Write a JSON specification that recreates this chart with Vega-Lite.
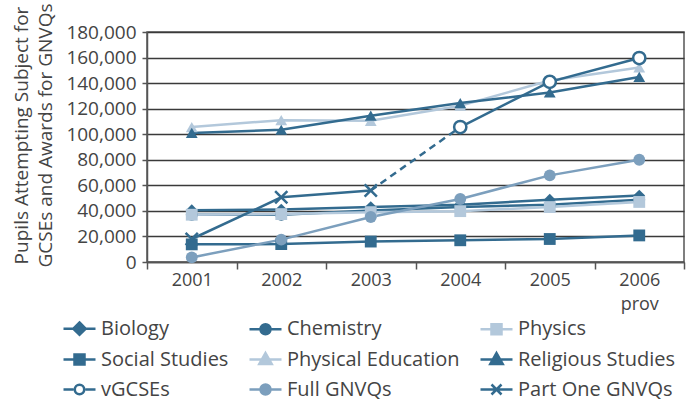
{
  "$schema": "https://vega.github.io/schema/vega-lite/v6.json",
  "width": 537,
  "height": 230,
  "autosize": {"type": "none"},
  "padding": {"left": 147, "top": 32, "right": 12, "bottom": 138},
  "config": {
    "font": "Open Sans",
    "view": {"stroke": "#555555", "strokeWidth": 1.5},
    "axis": {"labelColor": "#444444", "titleColor": "#444444", "domainColor": "#555555", "tickColor": "#555555", "domainWidth": 1.5, "tickWidth": 1.5}
  },
  "data": {
    "values": [
      {"series": "Biology", "year": "2001", "value": 40500},
      {"series": "Biology", "year": "2002", "value": 41000},
      {"series": "Biology", "year": "2003", "value": 43000},
      {"series": "Biology", "year": "2004", "value": 44800},
      {"series": "Biology", "year": "2005", "value": 48800},
      {"series": "Biology", "year": "2006", "value": 52000},
      {"series": "Chemistry", "year": "2001", "value": 37000},
      {"series": "Chemistry", "year": "2002", "value": 37000},
      {"series": "Chemistry", "year": "2003", "value": 40400},
      {"series": "Chemistry", "year": "2004", "value": 43000},
      {"series": "Chemistry", "year": "2005", "value": 44800},
      {"series": "Chemistry", "year": "2006", "value": 48800},
      {"series": "Physics", "year": "2001", "value": 37000},
      {"series": "Physics", "year": "2002", "value": 37500},
      {"series": "Physics", "year": "2003", "value": 39000},
      {"series": "Physics", "year": "2004", "value": 39800},
      {"series": "Physics", "year": "2005", "value": 43000},
      {"series": "Physics", "year": "2006", "value": 47000},
      {"series": "Social Studies", "year": "2001", "value": 13800},
      {"series": "Social Studies", "year": "2002", "value": 14000},
      {"series": "Social Studies", "year": "2003", "value": 16000},
      {"series": "Social Studies", "year": "2004", "value": 17000},
      {"series": "Social Studies", "year": "2005", "value": 18000},
      {"series": "Social Studies", "year": "2006", "value": 20800},
      {"series": "Physical Education", "year": "2001", "value": 105600},
      {"series": "Physical Education", "year": "2002", "value": 111000},
      {"series": "Physical Education", "year": "2003", "value": 110500},
      {"series": "Physical Education", "year": "2004", "value": 122300},
      {"series": "Physical Education", "year": "2005", "value": 142000},
      {"series": "Physical Education", "year": "2006", "value": 152300},
      {"series": "Religious Studies", "year": "2001", "value": 101000},
      {"series": "Religious Studies", "year": "2002", "value": 103500},
      {"series": "Religious Studies", "year": "2003", "value": 114500},
      {"series": "Religious Studies", "year": "2004", "value": 124400},
      {"series": "Religious Studies", "year": "2005", "value": 132700},
      {"series": "Religious Studies", "year": "2006", "value": 144800},
      {"series": "vGCSEs", "year": "2004", "value": 105600},
      {"series": "vGCSEs", "year": "2005", "value": 141000},
      {"series": "vGCSEs", "year": "2006", "value": 159600},
      {"series": "Full GNVQs", "year": "2001", "value": 3600},
      {"series": "Full GNVQs", "year": "2002", "value": 17500},
      {"series": "Full GNVQs", "year": "2003", "value": 35200},
      {"series": "Full GNVQs", "year": "2004", "value": 49300},
      {"series": "Full GNVQs", "year": "2005", "value": 67800},
      {"series": "Full GNVQs", "year": "2006", "value": 80000},
      {"series": "Part One GNVQs", "year": "2001", "value": 18000},
      {"series": "Part One GNVQs", "year": "2002", "value": 50600},
      {"series": "Part One GNVQs", "year": "2003", "value": 56000}
    ]
  },
  "encoding": {
    "x": {
      "field": "year", "type": "ordinal",
      "scale": {"type": "band", "domain": ["2001", "2002", "2003", "2004", "2005", "2006"], "paddingInner": 0, "paddingOuter": 0},
      "axis": {
        "title": null, "labelAngle": 0, "labelFontSize": 18, "tickBand": "extent", "tickSize": 7, "labelPadding": 2,
        "labelLineHeight": 24, "grid": false,
        "labelExpr": "datum.value === '2006' ? ['2006', 'prov'] : datum.value"
      }
    },
    "y": {
      "field": "value", "type": "quantitative",
      "scale": {"domain": [0, 180000], "nice": false},
      "axis": {
        "values": [0, 20000, 40000, 60000, 80000, 100000, 120000, 140000, 160000, 180000],
        "format": ",.0f", "labelFontSize": 19, "tickSize": 5, "labelPadding": 6,
        "grid": true, "gridColor": "#3a3a3a", "gridWidth": 1.5,
        "title": ["Pupils Attempting Subject for", "GCSEs and Awards for GNVQs"],
        "titleFontSize": 19, "titleFontWeight": "normal", "titleLineHeight": 24,
        "titleX": -135, "titleY": 103, "titleAngle": -90, "titleAlign": "center", "titleBaseline": "top"
      }
    }
  },
  "layer": [
    {
      "mark": {"type": "line", "strokeWidth": 2.5},
      "encoding": {
        "color": {
          "field": "series", "type": "nominal",
          "scale": {
            "domain": ["Biology", "Chemistry", "Physics", "Social Studies", "Physical Education", "Religious Studies", "vGCSEs", "Full GNVQs", "Part One GNVQs"],
            "range": ["#336b8f", "#336b8f", "#b3c8db", "#336b8f", "#b3c8db", "#336b8f", "#336b8f", "#7c9fbd", "#336b8f"]
          },
          "legend": {
            "title": null, "orient": "none", "legendX": -79, "legendY": 285, "columns": 3, "direction": "horizontal",
            "labelFontSize": 20, "labelColor": "#444444", "labelLimit": 300, "labelOffset": 10,
            "columnPadding": 15, "rowPadding": 8, "padding": 0,
            "symbolSize": 400, "symbolStrokeWidth": 2.5,
            "encode": {
              "symbols": {
                "update": {
                  "shape": {"signal": "datum.value==='Biology' ? 'M-1.6,0H1.6M0,-0.62L0.62,0L0,0.62L-0.62,0Z' : (datum.value==='Physics'||datum.value==='Social Studies') ? 'M-1.6,0H1.6M-0.5,-0.5H0.5V0.5H-0.5Z' : (datum.value==='Physical Education'||datum.value==='Religious Studies') ? 'M-1.6,0H1.6M0,-0.65L0.62,0.45H-0.62Z' : datum.value==='vGCSEs' ? 'M-1.6,0H-0.6M0.6,0H1.6M0.475,0A0.475,0.475,0,1,1,-0.475,0A0.475,0.475,0,1,1,0.475,0ZM0.47,0A0.47,0.47,0,1,0,-0.47,0A0.47,0.47,0,1,0,0.47,0Z' : datum.value==='Part One GNVQs' ? 'M-1.6,0H1.6M-0.5,-0.5L0.5,0.5M-0.5,0.5L0.5,-0.5' : 'M-1.6,0H1.6M0.5,0A0.5,0.5,0,1,1,-0.5,0A0.5,0.5,0,1,1,0.5,0Z'"},
                  "stroke": {"signal": "scale('color', datum.value)"},
                  "opacity": {"value": 1}
                }
              }
            }
          }
        }
      }
    },
    {
      "data": {"values": [{"year": "2003", "value": 56000}, {"year": "2004", "value": 105600}]},
      "mark": {"type": "line", "strokeWidth": 2.5, "strokeDash": [7, 5], "color": "#336b8f"},
      "encoding": {}
    },
    {
      "transform": [{"filter": "datum.series !== 'vGCSEs' && datum.series !== 'Part One GNVQs'"}],
      "mark": {"type": "point", "filled": true, "opacity": 1, "size": 140},
      "encoding": {
        "color": {"field": "series", "type": "nominal"},
        "shape": {
          "field": "series", "type": "nominal", "legend": null,
          "scale": {
            "domain": ["Biology", "Chemistry", "Physics", "Social Studies", "Physical Education", "Religious Studies", "Full GNVQs"],
            "range": ["diamond", "circle", "square", "square", "triangle-up", "triangle-up", "circle"]
          }
        }
      }
    },
    {
      "transform": [{"filter": "datum.series === 'vGCSEs'"}],
      "mark": {"type": "point", "shape": "circle", "filled": false, "fill": "#ffffff", "fillOpacity": 1, "stroke": "#336b8f", "strokeWidth": 2.5, "opacity": 1, "size": 150},
      "encoding": {}
    },
    {
      "transform": [{"filter": "datum.series === 'Part One GNVQs'"}],
      "mark": {"type": "point", "shape": "M-1,-1L1,1M-1,1L1,-1", "filled": false, "stroke": "#336b8f", "strokeWidth": 2.5, "opacity": 1, "size": 150},
      "encoding": {}
    }
  ]
}
